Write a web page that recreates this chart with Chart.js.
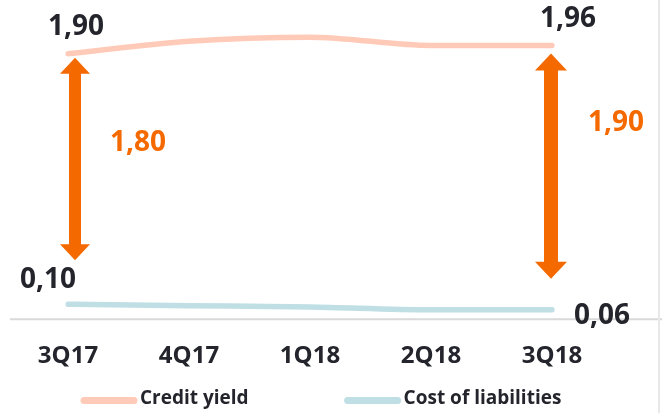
<!DOCTYPE html>
<html>
<head>
<meta charset="utf-8">
<script src="https://cdn.jsdelivr.net/npm/chart.js@4.4.1/dist/chart.umd.min.js"></script>
<style>
  html, body { margin: 0; padding: 0; background: #fff; }
  #wrap { position: relative; width: 662px; height: 413px; }
</style>
</head>
<body>
<div id="wrap"><canvas id="chart" width="662" height="413"></canvas></div>
<script>
// ---- data ----
const quarters = ['3Q17', '4Q17', '1Q18', '2Q18', '3Q18'];
const creditYield = [1.90, 1.99, 2.02, 1.96, 1.96];
const costOfLiabilities = [0.10, 0.09, 0.08, 0.06, 0.06];
const seriesNames = ['Credit yield', 'Cost of liabilities'];

const TEXT_DARK = '#24242c';
const ORANGE = '#f56a00';
const FONT = '"Open Sans", "DejaVu Sans", sans-serif';

const fmt = v => v.toFixed(2).replace('.', ',');

// double-headed arrow
function drawArrow(ctx, x, yTop, yBottom, shaft, head, headLen) {
    ctx.beginPath();
    ctx.moveTo(x, yTop);
    ctx.lineTo(x + head / 2, yTop + headLen);
    ctx.lineTo(x + shaft / 2, yTop + headLen);
    ctx.lineTo(x + shaft / 2, yBottom - headLen);
    ctx.lineTo(x + head / 2, yBottom - headLen);
    ctx.lineTo(x, yBottom);
    ctx.lineTo(x - head / 2, yBottom - headLen);
    ctx.lineTo(x - shaft / 2, yBottom - headLen);
    ctx.lineTo(x - shaft / 2, yTop + headLen);
    ctx.lineTo(x - head / 2, yTop + headLen);
    ctx.closePath();
    ctx.fillStyle = ORANGE;
    ctx.fill();
}

const decorations = {
    id: 'decorations',
    beforeDatasetsDraw(chart) {
        const { ctx, chartArea, width, height } = chart;
        ctx.save();
        // base line
        ctx.strokeStyle = '#d9d9d9';
        ctx.lineWidth = 2;
        ctx.beginPath();
        ctx.moveTo(10, chartArea.bottom + 1);
        ctx.lineTo(width, chartArea.bottom + 1);
        ctx.stroke();
        // right edge
        ctx.strokeStyle = '#e8e8e8';
        ctx.beginPath();
        ctx.moveTo(width - 3, 0);
        ctx.lineTo(width - 3, height);
        ctx.stroke();
        ctx.restore();
    },
    afterDatasetsDraw(chart) {
        const { ctx } = chart;
        const x = chart.scales.x;
        const y = chart.scales.y;
        const last = quarters.length - 1;

        const x0 = x.getPixelForValue(0);
        const x1 = x.getPixelForValue(last);
        const cy0 = y.getPixelForValue(creditYield[0]);
        const cy1 = y.getPixelForValue(creditYield[last]);
        const ly0 = y.getPixelForValue(costOfLiabilities[0]);
        const ly1 = y.getPixelForValue(costOfLiabilities[last]);

        ctx.save();
        drawArrow(ctx, x0 + 7, cy0 + 4, ly0 - 44, 12, 30, 16);
        drawArrow(ctx, x1 - 1, cy1 + 8, ly1 - 31, 14, 32, 17);

        ctx.textBaseline = 'middle';
        ctx.textAlign = 'left';
        ctx.font = 'bold 28px ' + FONT;
        ctx.fillStyle = TEXT_DARK;
        ctx.fillText(fmt(creditYield[0]), x0 - 20, cy0 - 27);
        ctx.fillText(fmt(creditYield[last]), x1 - 12, cy1 - 26);
        ctx.fillText(fmt(costOfLiabilities[0]), x0 - 48, ly0 - 24);
        ctx.fillText(fmt(costOfLiabilities[last]), x1 + 22, ly1 + 6);

        ctx.fillStyle = ORANGE;
        ctx.fillText(fmt(creditYield[0] - costOfLiabilities[0]), x0 + 42, 143);
        ctx.fillText(fmt(creditYield[last] - costOfLiabilities[last]), x1 + 36, 123);

        // legend
        ctx.font = 'bold 19px ' + FONT;
        let lx = 81;
        chart.data.datasets.forEach(ds => {
            ctx.strokeStyle = ds.borderColor;
            ctx.lineWidth = 7;
            ctx.lineCap = 'round';
            ctx.beginPath();
            ctx.moveTo(lx + 3, 400.5);
            ctx.lineTo(lx + 53, 400.5);
            ctx.stroke();
            ctx.fillStyle = TEXT_DARK;
            ctx.fillText(ds.label, lx + 59, 399);
            lx += 59 + ctx.measureText(ds.label).width + 96;
        });
        ctx.restore();
    }
};

new Chart(document.getElementById('chart'), {
    type: 'line',
    data: {
        labels: quarters,
        datasets: [
            {
                label: seriesNames[0],
                data: creditYield,
                borderColor: '#ffcbb8',
                borderWidth: 5.5,
                borderCapStyle: 'round',
                pointRadius: 0,
                cubicInterpolationMode: 'monotone'
            },
            {
                label: seriesNames[1],
                data: costOfLiabilities,
                borderColor: '#bfdfe4',
                borderWidth: 5.5,
                borderCapStyle: 'round',
                pointRadius: 0,
                cubicInterpolationMode: 'monotone'
            }
        ]
    },
    options: {
        responsive: false,
        animation: false,
        layout: { padding: { left: 68, right: 110, top: 26, bottom: 18 } },
        plugins: {
            legend: { display: false },
            tooltip: { enabled: false }
        },
        scales: {
            y: { display: false, min: 0, max: 2.1 },
            x: {
                grid: { display: false, drawTicks: false },
                border: { display: false },
                ticks: {
                    padding: 24,
                    color: TEXT_DARK,
                    font: { family: FONT, size: 24, weight: 'bold' }
                }
            }
        }
    },
    plugins: [decorations]
});
</script>
</body>
</html>
